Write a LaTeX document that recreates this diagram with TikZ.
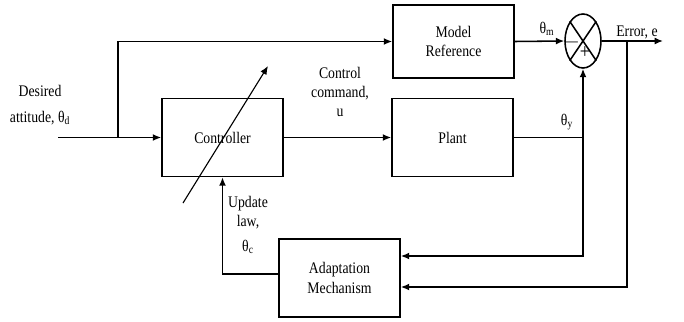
\documentclass[tikz,border=0pt]{standalone}
\usepackage{fontspec}
\setmainfont{Liberation Serif}[FakeStretch=0.85]
\usetikzlibrary{arrows.meta,positioning,calc,shapes.geometric}

\tikzset{
  blk/.style={draw, line width=1.1pt, minimum width=3.025cm, minimum height=1.95cm,
    align=center, font=\fontsize{11.5}{14}\selectfont},
  wire/.style={line width=1.1pt},
  sig/.style={wire, -{Latex[length=6pt,width=5pt]}},
  lbl/.style={font=\fontsize{11.5}{13.5}\selectfont, align=center, inner sep=0pt},
  sgn/.style={font=\fontsize{15}{15}\selectfont, inner sep=0pt},
}

\begin{document}
\begin{tikzpicture}[x=0.025cm, y=-0.025cm]
\useasboundingbox (0,0) rectangle (684,322);

% blocks
\node[blk, minimum height=1.825cm] (model) at (453.5,41.5) {Model\\Reference};
\node[blk] (ctrl)  at (222.5,137.5) {Controller};
\node[blk] (plant) at (452.5,137.5) {Plant};
\node[blk] (adapt) at (339.5,278) {Adaptation\\Mechanism};

% summing junction
\node[draw, line width=1.1pt, ellipse, minimum width=0.9cm, minimum height=1.35cm,
  inner sep=0pt] (sum) at (583,41) {};
\draw[wire] (sum.north west) -- (sum.south east);
\draw[wire] (sum.north east) -- (sum.south west);
\node[sgn] (minus) at (572,42) {$-$};
\node[sgn] (plus)  at (585,53) {+};

% points
\coordinate (in)   at (58,137.5);
\coordinate (tap)  at (118,137.5);
\coordinate (err)  at (663,41);
\coordinate (etap) at (627,41);
\coordinate (ytap) at (583,137.5);

% signals
\draw[sig] (in) -- (ctrl.west);
\draw[sig] (tap) |- (model.west);
\draw[sig] (ctrl.east) -- (plant.west);
\draw[sig] (model.east) -- (sum.west);
\draw[sig] (sum.east) -- (err);
\draw[wire] (plant.east) -- (ytap);
\draw[sig] (ytap) -- (sum.south);
\draw[sig] (ytap) |- ($(adapt.east)+(0,-22)$);
\draw[sig] (etap) |- ($(adapt.east)+(0,9)$);
\draw[sig] ($(adapt.west)+(0,-4)$) -| (ctrl.south);

% adjustable controller
\coordinate (adjA) at (183,203);
\coordinate (adjB) at (268,66);
\draw[line width=0.8pt, -{Latex[length=6pt,width=5pt]}] (adjA) -- (adjB);

% labels
\node[lbl] (ldes) at (40,105) {Desired\\[5pt]attitude, θ\textsubscript{d}};
\node[lbl] (lcmd) at (340,92) {Control\\command,\\u};
\node[lbl] (lthm) at (547,29) {θ\textsubscript{m}};
\node[lbl] (lerr) at (637,32) {Error, e};
\node[lbl] (lthy) at (567,122) {θ\textsubscript{y}};
\node[lbl] (lupd) at (248,225) {Update\\law,\\[4pt]θ\textsubscript{c}};
\end{tikzpicture}
\end{document}
